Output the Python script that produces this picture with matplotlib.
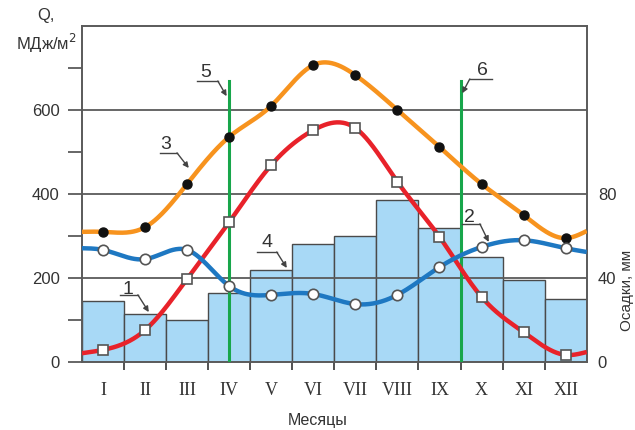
import numpy as np
import matplotlib
matplotlib.use("Agg")
import matplotlib.pyplot as plt

plt.rcParams['font.family'] = ['Liberation Sans', 'DejaVu Sans']

# месяцы
months = ["I", "II", "III", "IV", "V", "VI", "VII", "VIII", "IX", "X", "XI", "XII"]

# осадки, мм (столбики, 4)
precip = [29, 23, 20, 33, 44, 56, 60, 77, 64, 50, 39, 30]

# кривые, МДж/м2 (значения на середине месяца)
curve3 = [310, 321, 424, 536, 610, 707, 683, 600, 512, 424, 350, 295]   # оранжевая
curve1 = [29, 76, 198, 333, 469, 552, 557, 429, 298, 155, 71, 17]       # красная
curve2 = [267, 245, 267, 181, 160, 162, 138, 160, 226, 274, 290, 271]   # синяя

# значения кривых на краях графика (начало I и конец XII)
edge3 = [310, 312]
edge1 = [21, 24]
edge2 = [271, 262]

# зелёные линии 5 и 6 (положение по оси месяцев)
green_pos = [3.5, 9.0]
green_top = 668

# подписи-выноски: текст, позиция текста, линия подчёркивания, конец стрелки
labels = [
    ("1", (1.10, 172), (0.90, 1.33, 160), (1.59, 119), "right"),
    ("2", (9.20, 344), (9.03, 9.46, 329), (9.67, 286), "right"),
    ("3", (1.99, 519), (1.85, 2.26, 498), (2.54, 462), "right"),
    ("4", (4.40, 284), (4.16, 4.63, 262), (4.87, 224), "right"),
    ("5", (2.93, 690), (2.73, 3.23, 669), (3.44, 633), "right"),
    ("6", (9.51, 695), (9.22, 9.74, 674), (9.04, 640), "left"),
]


def nat_spline(xs, ys, n=500):
    xs = np.asarray(xs, float)
    ys = np.asarray(ys, float)
    k = len(xs)
    h = np.diff(xs)
    A = np.zeros((k, k))
    b = np.zeros(k)
    A[0, 0] = A[-1, -1] = 1
    for i in range(1, k - 1):
        A[i, i - 1] = h[i - 1]
        A[i, i] = 2 * (h[i - 1] + h[i])
        A[i, i + 1] = h[i]
        b[i] = 6 * ((ys[i + 1] - ys[i]) / h[i] - (ys[i] - ys[i - 1]) / h[i - 1])
    M = np.linalg.solve(A, b)
    xx = np.linspace(xs[0], xs[-1], n)
    idx = np.clip(np.searchsorted(xs, xx) - 1, 0, k - 2)
    x0, x1 = xs[idx], xs[idx + 1]
    hh = x1 - x0
    t0, t1 = x1 - xx, xx - x0
    yy = (M[idx] * t0 ** 3 / (6 * hh) + M[idx + 1] * t1 ** 3 / (6 * hh)
          + (ys[idx] / hh - M[idx] * hh / 6) * t0
          + (ys[idx + 1] / hh - M[idx + 1] * hh / 6) * t1)
    return xx, yy


frame = "#5a5a5a"
xc = np.arange(12) + 0.5

fig = plt.figure(figsize=(6.35, 4.3), dpi=100)
ax = fig.add_axes([0.129, 0.158, 0.795, 0.7815])
ax2 = ax.twinx()
ax.set_zorder(ax2.get_zorder() + 1)
ax.patch.set_visible(False)

# столбики осадков на правой оси
ax2.bar(xc, precip, width=1.0, color="#a8d9f6", edgecolor="#4a4a4a", linewidth=1.0, zorder=1)
ax2.set_ylim(0, 160)
ax2.set_yticks([0, 40, 80])
ax2.tick_params(axis="y", length=0, pad=8, labelsize=12, colors="#333333")
for s in ax2.spines.values():
    s.set_visible(False)

ax.set_xlim(0, 12)
ax.set_ylim(0, 800)

for y in [200, 400, 600]:
    ax.axhline(y, color=frame, lw=1.3, zorder=2)

for gx in green_pos:
    ax.plot([gx, gx], [0, green_top], color="#18a64b", lw=2.2, zorder=3)

for vals, edge, col in [(curve3, edge3, "#f7931e"), (curve1, edge1, "#e8222a"), (curve2, edge2, "#1e78c2")]:
    xs = np.concatenate([[0], xc, [12]])
    ys = np.concatenate([[edge[0]], vals, [edge[1]]])
    xx, yy = nat_spline(xs, ys)
    ax.plot(xx, yy, color=col, lw=3.2, zorder=4, solid_capstyle="butt")

ax.plot(xc, curve3, "o", ms=6.5, color="#111111", zorder=5)
ax.plot(xc, curve1, "s", ms=7, mfc="white", mec="#555555", mew=1.2, zorder=5)
ax.plot(xc, curve2, "o", ms=7.5, mfc="white", mec="#555555", mew=1.2, zorder=5)

for txt, tp, ul, tip, side in labels:
    ax.text(tp[0], tp[1], txt, fontsize=14, ha="center", va="center", color="#333333", zorder=6)
    ax.plot([ul[0], ul[1]], [ul[2], ul[2]], color="#444444", lw=1.0, zorder=6)
    start = (ul[1], ul[2]) if side == "right" else (ul[0], ul[2])
    ax.annotate("", xy=tip, xytext=start, zorder=6,
                arrowprops=dict(arrowstyle="-|>", color="#444444", lw=1.0,
                                mutation_scale=8, shrinkA=0, shrinkB=0))

# оси
ax.set_yticks([0, 200, 400, 600])
ax.set_yticks([100, 300, 500, 700], minor=True)
ax.tick_params(axis="y", which="both", direction="out", length=10, width=1.3,
               color=frame, labelsize=12, labelcolor="#333333", pad=6)
ax.set_xticks(np.arange(1, 12))
ax.set_xticks(xc, minor=True)
ax.set_xticklabels([])
ax.set_xticklabels(months, minor=True, fontfamily="Liberation Serif", fontsize=13, color="#333333")
ax.tick_params(axis="x", which="major", direction="out", length=6, width=1.2, color="#333333")
ax.tick_params(axis="x", which="minor", length=0, pad=14)
for s in ax.spines.values():
    s.set_color(frame)
    s.set_linewidth(1.4)

fig.text(0.073, 0.965, "Q,", fontsize=12, ha="center", va="center", color="#333333")
fig.text(0.073, 0.898, "МДж/м$^2$", fontsize=12, ha="center", va="center", color="#333333")
fig.text(0.5, 0.023, "Месяцы", fontsize=11.5, ha="center", va="center", color="#333333")
fig.text(0.987, 0.325, "Осадки, мм", fontsize=11, rotation=90, ha="center", va="center", color="#333333")

fig.savefig("out.png", dpi=100)
